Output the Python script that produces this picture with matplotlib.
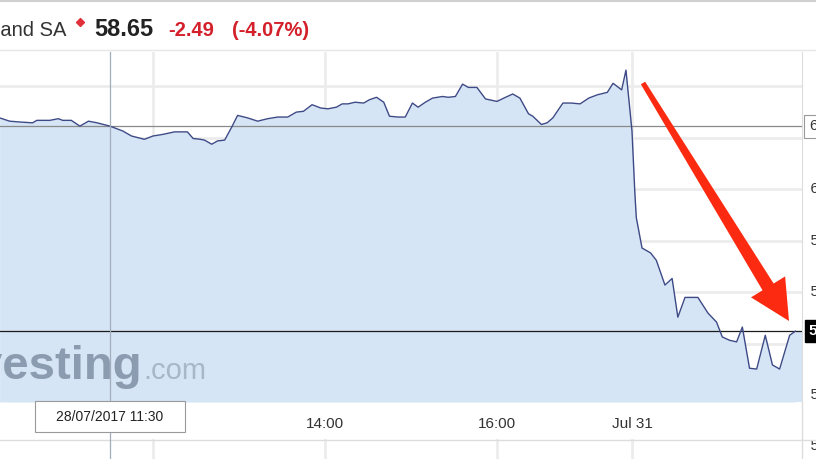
import matplotlib
matplotlib.use('Agg')
import matplotlib.pyplot as plt
import matplotlib.transforms as mtransforms
from matplotlib.patches import Rectangle, Polygon
from matplotlib.lines import Line2D
import numpy as np

# header
NAME = 'Legrand SA'
LAST = '58.65'
CHANGE = '-2.49'
CHANGE_PCT = '(-4.07%)'
PREV_CLOSE = 61.14
LAST_PRICE = 58.65
CROSSHAIR_LABEL = '28/07/2017 11:30'

# intraday prices
JUL28_TIMES = ['10:13', '10:20', '10:27', '10:36', '10:39', '10:48', '10:54', '10:57',
               '11:03', '11:09', '11:15', '11:21', '11:30', '11:33', '11:39', '11:45',
               '11:54', '12:00', '12:07', '12:15', '12:24', '12:28', '12:33', '12:36',
               '12:41', '12:45', '12:50', '12:55', '12:59', '13:06', '13:13', '13:20',
               '13:27', '13:34', '13:40', '13:45', '13:51', '13:57', '14:02', '14:08',
               '14:12', '14:16', '14:21', '14:27', '14:31', '14:36', '14:41', '14:45',
               '14:51', '14:56', '15:01', '15:05', '15:10', '15:15', '15:22', '15:26',
               '15:31', '15:36', '15:40', '15:46', '15:52', '16:00', '16:06', '16:11',
               '16:16', '16:22', '16:25', '16:31', '16:35', '16:39', '16:46', '16:52',
               '16:58', '17:04', '17:10', '17:17', '17:21', '17:27', '17:30']
JUL28_PRICES = [61.24, 61.20, 61.19, 61.18, 61.21, 61.21, 61.23, 61.21,
                61.21, 61.14, 61.20, 61.18, 61.14, 61.12, 61.08, 61.02,
                60.98, 61.02, 61.04, 61.07, 61.07, 60.99, 60.98, 60.97,
                60.92, 60.96, 60.97, 61.13, 61.27, 61.24, 61.20, 61.23,
                61.25, 61.25, 61.31, 61.32, 61.40, 61.36, 61.35, 61.37,
                61.41, 61.41, 61.43, 61.42, 61.46, 61.49, 61.43, 61.26,
                61.25, 61.25, 61.42, 61.37, 61.43, 61.48, 61.50, 61.49,
                61.50, 61.65, 61.61, 61.61, 61.47, 61.44, 61.49, 61.53,
                61.48, 61.29, 61.26, 61.16, 61.18, 61.24, 61.42, 61.42,
                61.41, 61.48, 61.52, 61.55, 61.66, 61.58, 61.82]

JUL31_TIMES = ['09:00', '09:02', '09:03', '09:07', '09:13', '09:17', '09:23', '09:28',
               '09:32', '09:37', '09:46', '09:53', '09:59', '10:03', '10:08', '10:13',
               '10:17', '10:22', '10:27', '10:33', '10:38', '10:43', '10:50', '10:54']
JUL31_PRICES = [61.08, 60.33, 60.03, 59.66, 59.60, 59.51, 59.21, 59.29,
                58.82, 59.06, 59.06, 58.87, 58.76, 58.58, 58.54, 58.52,
                58.70, 58.20, 58.19, 58.60, 58.24, 58.19, 58.60, 58.65]

X_TICKS = [12.0, 14.0, 16.0]
X_TICK_LABELS = ['', '14:00', '16:00', 'Jul 31']   # 12:00 sits under the crosshair box
Y_GRID = [61.625, 61.0, 60.375, 59.75, 59.125, 58.5, 57.875]
Y_LABELS = [60.375, 59.75, 59.125, 58.5, 57.875, 57.25]

JUL31_OPEN_POS = 17.57   # where the Jul 31 session starts on the time axis
X_MIN, X_MAX = 10.221, 19.547
Y_MIN, Y_MAX = 57.79, 62.04


def to_hours(s):
    h, m = s.split(':')
    return int(h) + int(m) / 60


W, H = 816, 459
def fx(px):
    return px / W
def fy(py):
    return 1 - py / H


plt.rcParams['font.family'] = ['Liberation Sans', 'DejaVu Sans']

x28 = [to_hours(t) for t in JUL28_TIMES]
x31 = [JUL31_OPEN_POS + to_hours(t) - 9 for t in JUL31_TIMES]
xs = np.array(x28 + x31)
ys = np.array(JUL28_PRICES + JUL31_PRICES)

fig = plt.figure(figsize=(W / 100, H / 100), dpi=100)
ax = fig.add_axes([0, fy(402), fx(802), (402 - 52) / H])
ax.set_xlim(X_MIN, X_MAX)
ax.set_ylim(Y_MIN, Y_MAX)

line_col = '#3e4a86'
fill_col = '#d5e5f5'
grid_col = '#ececec'
red = '#d3202a'

ax.fill_between(xs, ys, Y_MIN, color=fill_col, lw=0, zorder=1)
# the shaded area runs on to the right edge at the last price
ax.fill_between([xs[-1], X_MAX], [ys[-1], ys[-1]], Y_MIN, color=fill_col, lw=0, zorder=1)
ax.plot(xs, ys, color=line_col, lw=1.0, zorder=4)

# grid behind the fill
ax.set_axisbelow(True)
ax.set_xticks(X_TICKS + [JUL31_OPEN_POS])
ax.set_xticklabels(X_TICK_LABELS)
ax.set_yticks(Y_GRID)
ax.set_yticklabels([])
ax.grid(color=grid_col, lw=2)
ax.tick_params(axis='x', length=0, pad=11, labelsize=11, labelcolor='#333333')
ax.tick_params(axis='y', length=0, right=False, left=False)
for side in ['left', 'top', 'bottom']:
    ax.spines[side].set_visible(False)
ax.spines['right'].set_color('#dddddd')

ytrans = mtransforms.blended_transform_factory(ax.transAxes, ax.transData)
for v in Y_LABELS:
    if abs(v - LAST_PRICE) < 0.3:
        continue   # hidden behind the last-price box
    ax.text(1.0, v, f'  {v:.2f}', transform=ytrans, ha='left', va='center',
            fontsize=11, color='#333333', clip_on=False, zorder=2)

# previous close and last price lines
ax.axhline(PREV_CLOSE, color='#8a8a8a', lw=0.9, zorder=3)
ax.axhline(LAST_PRICE, color='#1a1a1a', lw=0.9, zorder=3)
ax.annotate(f'{PREV_CLOSE:.2f}', xy=(1, PREV_CLOSE), xycoords=ytrans, xytext=(5, 0),
            textcoords='offset points', ha='left', va='center', fontsize=11,
            color='#333333', annotation_clip=False, zorder=6,
            bbox=dict(boxstyle='square,pad=0.3', fc='white', ec='#999999', lw=0.8))
ax.annotate(f'{LAST_PRICE:.2f}', xy=(1, LAST_PRICE), xycoords=ytrans, xytext=(5, 0),
            textcoords='offset points', ha='left', va='center', fontsize=11,
            color='white', fontweight='bold', annotation_clip=False, zorder=6,
            bbox=dict(boxstyle='square,pad=0.25', fc='black', ec='black'))

# crosshair and lower panel
xtrans = mtransforms.blended_transform_factory(ax.transData, fig.transFigure)
fig.add_artist(Line2D([11.5, 11.5], [0, fy(52)], transform=xtrans,
                      color='#a3adbb', lw=0.9, zorder=2))
for xt in X_TICKS + [JUL31_OPEN_POS]:
    fig.add_artist(Line2D([xt, xt], [0, fy(440)], transform=xtrans,
                          color=grid_col, lw=2, zorder=1))
fig.add_artist(Line2D([0, 1], [fy(440), fy(440)], transform=fig.transFigure,
                      color='#dddddd', lw=1, zorder=1))
fig.add_artist(Line2D([fx(802), fx(802)], [0, fy(402)], transform=fig.transFigure,
                      color='#dddddd', lw=1, zorder=1))

fig.add_artist(Rectangle((fx(35), fy(432)), fx(150), (432 - 401) / H,
                         transform=fig.transFigure, fc='white', ec='#9a9a9a',
                         lw=0.8, zorder=5))
fig.text(fx(110), fy(417), CROSSHAIR_LABEL, ha='center', va='center',
         fontsize=10, color='#222222', zorder=6)

# header
fig.add_artist(Line2D([0, 1], [fy(1), fy(1)], transform=fig.transFigure,
                      color='#d0d0d0', lw=1.5))
fig.add_artist(Line2D([0, 1], [fy(50), fy(50)], transform=fig.transFigure,
                      color='#e6e6e6', lw=1))
fig.text(fx(66), fy(36), NAME, ha='right', va='baseline', fontsize=14.5, color='#333333')
fig.add_artist(Line2D([fx(80)], [fy(22)], transform=fig.transFigure, marker='D',
                      ms=4, color='#e0303a', lw=0))
fig.text(fx(94), fy(36), LAST, ha='left', va='baseline', fontsize=17,
         fontweight='bold', color='#222222')
fig.text(fx(168), fy(36), CHANGE, ha='left', va='baseline', fontsize=14.5,
         fontweight='bold', color=red)
fig.text(fx(232), fy(36), CHANGE_PCT, ha='left', va='baseline', fontsize=14.5,
         fontweight='bold', color=red)

# watermark
fig.text(fx(143), fy(379), 'Investing', ha='right', va='baseline', fontsize=34,
         fontweight='bold', color='#8c9cb0', zorder=3,
         family=['Liberation Sans Narrow', 'Liberation Sans'])
fig.text(fx(143), fy(379), '.com', ha='left', va='baseline', fontsize=21,
         color='#a8b7c7', zorder=3)

# red arrow, tapered tail, built in pixel space
tail = np.array([643.0, 83.0])
tip = np.array([789.0, 321.0])
u = (tip - tail) / np.hypot(*(tip - tail))
n = np.array([-u[1], u[0]])
base = tip - u * 40
pts = [tail + n * 2.5, base + n * 6.5, base + n * 20, tip,
       base - n * 20, base - n * 6.5, tail - n * 2.5]
pts = [(fx(p[0]), fy(p[1])) for p in pts]
fig.add_artist(Polygon(pts, closed=True, transform=fig.transFigure,
                       fc='#fb2a10', ec='none', zorder=7))

fig.savefig('out.png', dpi=100)
